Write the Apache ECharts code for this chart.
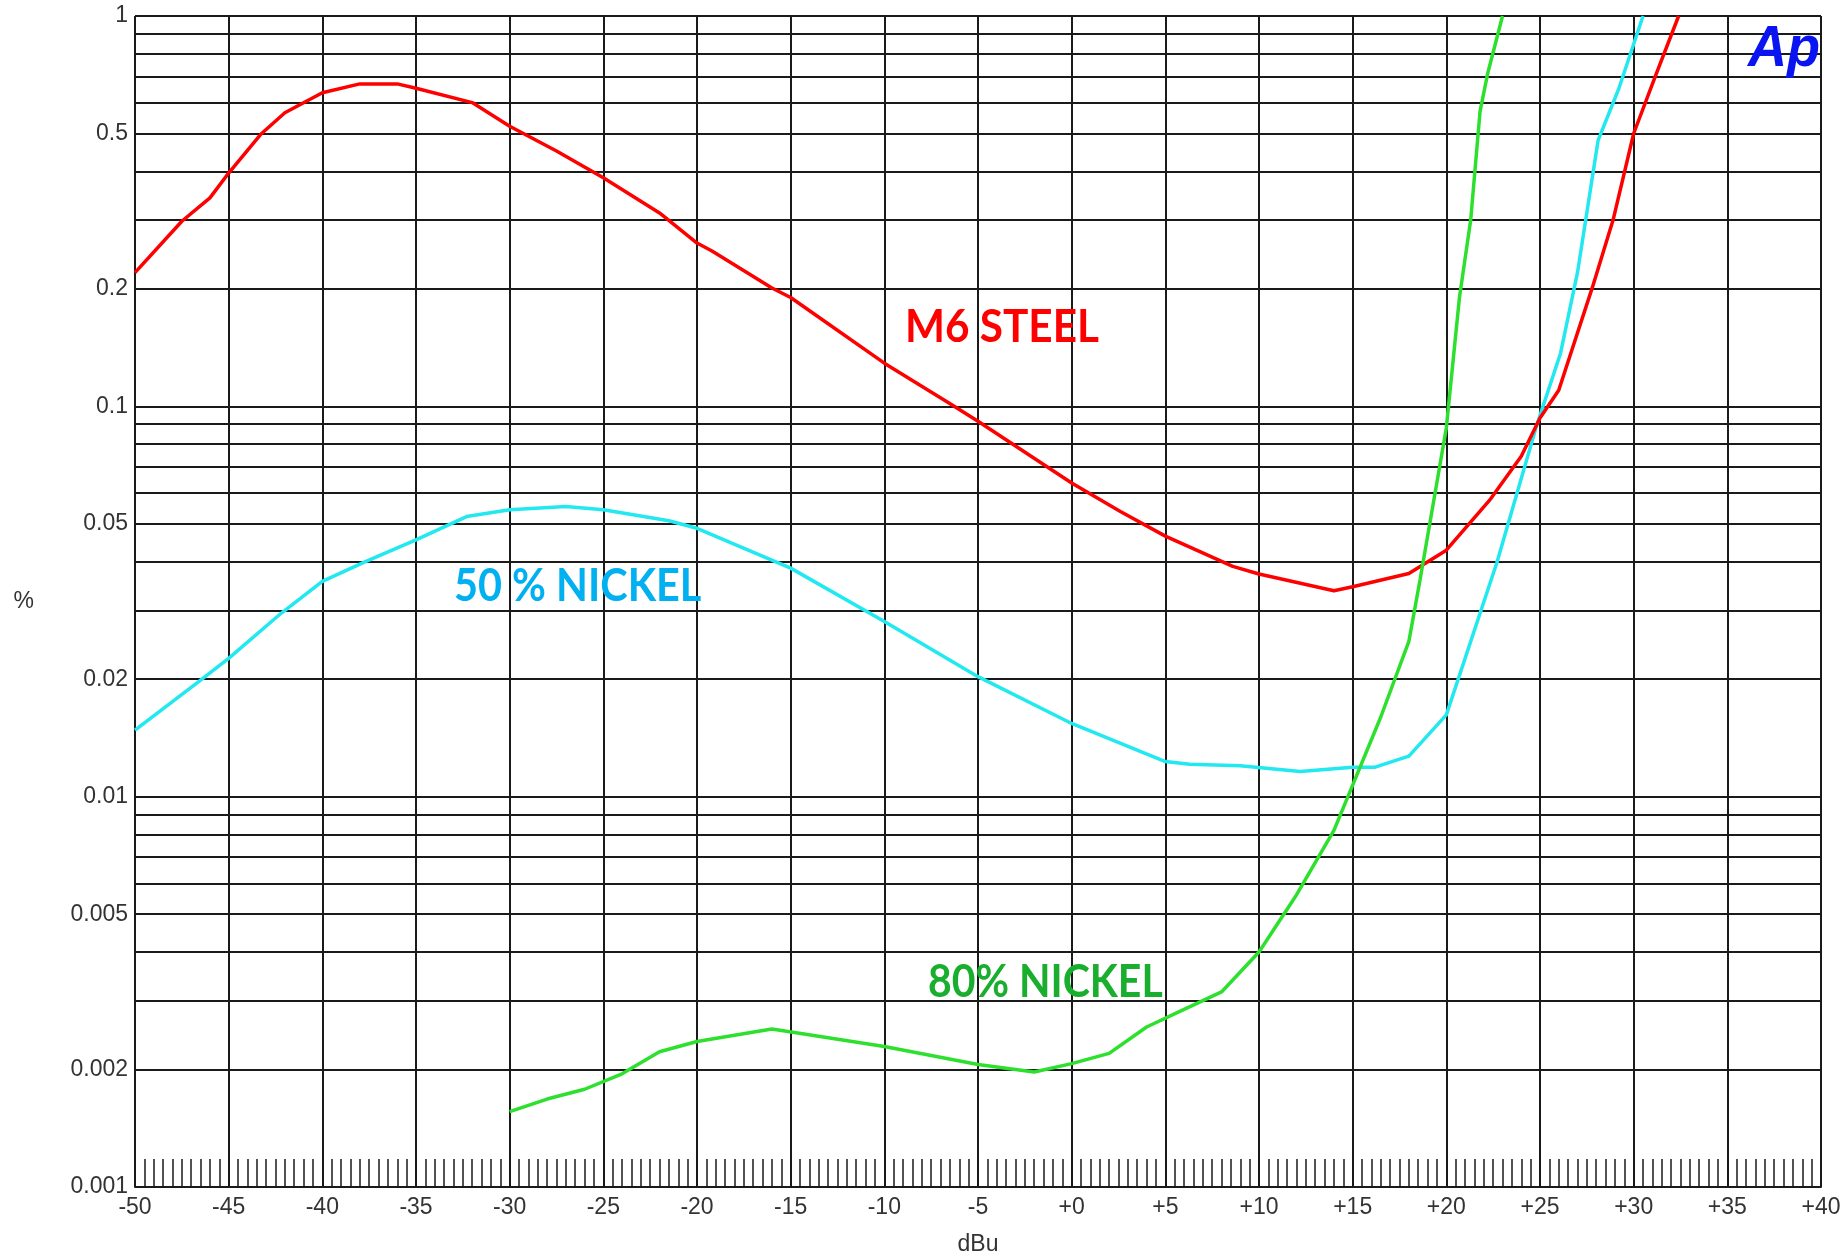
<!DOCTYPE html>
<html>
<head>
<meta charset="utf-8">
<script src="https://cdn.jsdelivr.net/npm/echarts@6/dist/echarts.min.js"></script>
<style>
  html, body { margin: 0; padding: 0; background: #ffffff; }
  #chart { width: 1842px; height: 1257px; }
</style>
</head>
<body>
<div id="chart"></div>
<script>
// Distortion (%) versus level (dBu) for three transformer core materials.

// Horizontal grid: every 1..9 x 10^n between 0.001 and 1
const yGridValues = [
  0.001, 0.002, 0.003, 0.004, 0.005, 0.006, 0.007, 0.008, 0.009,
  0.01, 0.02, 0.03, 0.04, 0.05, 0.06, 0.07, 0.08, 0.09,
  0.1, 0.2, 0.3, 0.4, 0.5, 0.6, 0.7, 0.8, 0.9, 1
];
// Labelled values on the % axis
const yLabelValues = [0.001, 0.002, 0.005, 0.01, 0.02, 0.05, 0.1, 0.2, 0.5, 1];

// M6 STEEL
const m6Dbu = [-50, -47.5, -46, -45, -43.3, -42, -40, -38, -36, -35, -32, -30, -27.5, -25, -22, -20, -19.2, -16, -15, -10, -6.4, -5, 0, 2.6, 5, 8.6, 10, 14, 15, 18, 20, 22.3, 24, 25, 26, 27.8, 28.9, 30, 31.2, 32.4];
const m6Pct = [0.22, 0.298, 0.342, 0.396, 0.497, 0.565, 0.636, 0.67, 0.67, 0.653, 0.6, 0.522, 0.451, 0.385, 0.313, 0.262, 0.25, 0.201, 0.19, 0.129, 0.101, 0.0916, 0.0636, 0.0538, 0.0465, 0.0389, 0.0372, 0.0337, 0.0345, 0.0373, 0.0428, 0.0574, 0.0745, 0.0934, 0.110, 0.202, 0.3, 0.5, 0.71, 1.0];

// 50 % NICKEL
const ni50Dbu = [-50, -46.6, -45, -42.2, -40, -37.7, -35, -32.3, -30, -27, -25, -21.5, -20, -15, -10, -5, 0, 5, 6.3, 9, 12.2, 15, 16.2, 18, 20, 22.7, 24.8, 26.1, 27, 28.1, 29.2, 30.5];
const ni50Pct = [0.0148, 0.0197, 0.0226, 0.0295, 0.0356, 0.040, 0.0455, 0.0522, 0.0543, 0.0554, 0.0543, 0.0509, 0.0487, 0.0385, 0.0281, 0.0203, 0.0154, 0.0123, 0.0121, 0.0120, 0.0116, 0.0119, 0.0119, 0.0127, 0.0162, 0.0398, 0.0886, 0.137, 0.22, 0.48, 0.65, 1.0];

// 80% NICKEL
const ni80Dbu = [-30, -28, -26, -24, -22, -20, -16, -10, -5, -2, 0, 2, 4, 6, 8, 10, 12, 14, 15, 16.5, 18, 18.6, 20, 20.7, 21.3, 21.8, 22.2, 23];
const ni80Pct = [0.00156, 0.00168, 0.00178, 0.00195, 0.00222, 0.00236, 0.00254, 0.00229, 0.00206, 0.00197, 0.00207, 0.0022, 0.00257, 0.00285, 0.00316, 0.0040, 0.0056, 0.0082, 0.0107, 0.016, 0.025, 0.036, 0.088, 0.19, 0.30, 0.57, 0.71, 1.0];

const zip = (xs, ys) => xs.map((x, i) => [x, ys[i]]);

const gridColor = '#1a1a1a';
const textColor = '#333333';
const tickFont = 'Liberation Sans';

const chart = echarts.init(document.getElementById('chart'), null, { renderer: 'canvas' });

chart.setOption({
  animation: false,
  backgroundColor: '#ffffff',
  grid: { left: 135, right: 21, top: 16, bottom: 70, containLabel: false, outerBoundsMode: 'none' },
  xAxis: {
    type: 'value',
    min: -50,
    max: 40,
    interval: 5,
    name: 'dBu',
    nameLocation: 'middle',
    nameGap: 46,
    nameTextStyle: { fontFamily: tickFont, fontSize: 23, color: textColor },
    axisLine: { show: true, onZero: false, lineStyle: { color: gridColor, width: 2 } },
    axisTick: { show: true, inside: true, length: 28, lineStyle: { color: gridColor, width: 1.5 } },
    minorTick: { show: true, splitNumber: 10, length: 28, lineStyle: { color: gridColor, width: 1.5 } },
    axisLabel: {
      margin: 9,
      fontFamily: tickFont,
      fontSize: 23,
      color: textColor,
      formatter: v => (v >= 0 ? '+' + v : String(v))
    },
    splitLine: { show: true, lineStyle: { color: gridColor, width: 2 } }
  },
  yAxis: {
    type: 'log',
    logBase: 10,
    min: 0.001,
    max: 1,
    name: '%',
    nameLocation: 'middle',
    nameRotate: 0,
    nameGap: 101,
    nameTextStyle: { fontFamily: tickFont, fontSize: 23, color: textColor },
    axisLine: { show: true, lineStyle: { color: gridColor, width: 2 } },
    axisTick: { show: false, customValues: yGridValues },
    axisLabel: {
      margin: 7,
      fontFamily: tickFont,
      fontSize: 23,
      color: textColor,
      customValues: yLabelValues,
      formatter: v => String(+Number(v).toPrecision(3))
    },
    splitLine: { show: true, lineStyle: { color: gridColor, width: 2 } }
  },
  series: [
    {
      name: 'M6 STEEL',
      type: 'line',
      data: zip(m6Dbu, m6Pct),
      showSymbol: false,
      smooth: false,
      lineStyle: { color: '#ff0000', width: 3.5 },
      itemStyle: { color: '#ff0000' },
      z: 5
    },
    {
      name: '50 % NICKEL',
      type: 'line',
      data: zip(ni50Dbu, ni50Pct),
      showSymbol: false,
      smooth: false,
      lineStyle: { color: '#22e8f0', width: 3.5 },
      itemStyle: { color: '#22e8f0' },
      z: 4
    },
    {
      name: '80% NICKEL',
      type: 'line',
      data: zip(ni80Dbu, ni80Pct),
      showSymbol: false,
      smooth: false,
      lineStyle: { color: '#2ee02e', width: 3.5 },
      itemStyle: { color: '#2ee02e' },
      z: 6
    }
  ],
  graphic: [
    {
      type: 'text', x: 905, y: 327, scaleX: 0.94, z: 100,
      style: { text: 'M6 STEEL', font: 'bold 45px Lato', fill: '#ff0000', verticalAlign: 'middle' }
    },
    {
      type: 'text', x: 454, y: 586, scaleX: 0.92, z: 100,
      style: { text: '50 % NICKEL', font: 'bold 45px Lato', fill: '#00b0f0', verticalAlign: 'middle' }
    },
    {
      type: 'text', x: 928, y: 982, scaleX: 0.91, z: 100,
      style: { text: '80% NICKEL', font: 'bold 45px Lato', fill: '#1aae2e', verticalAlign: 'middle' }
    },
    {
      type: 'text', x: 1748, y: 50, scaleX: 0.95, z: 100,
      style: { text: 'Ap', font: 'italic bold 57px "Liberation Sans"', fill: '#0a14f0', verticalAlign: 'middle' }
    }
  ]
});
</script>
</body>
</html>
